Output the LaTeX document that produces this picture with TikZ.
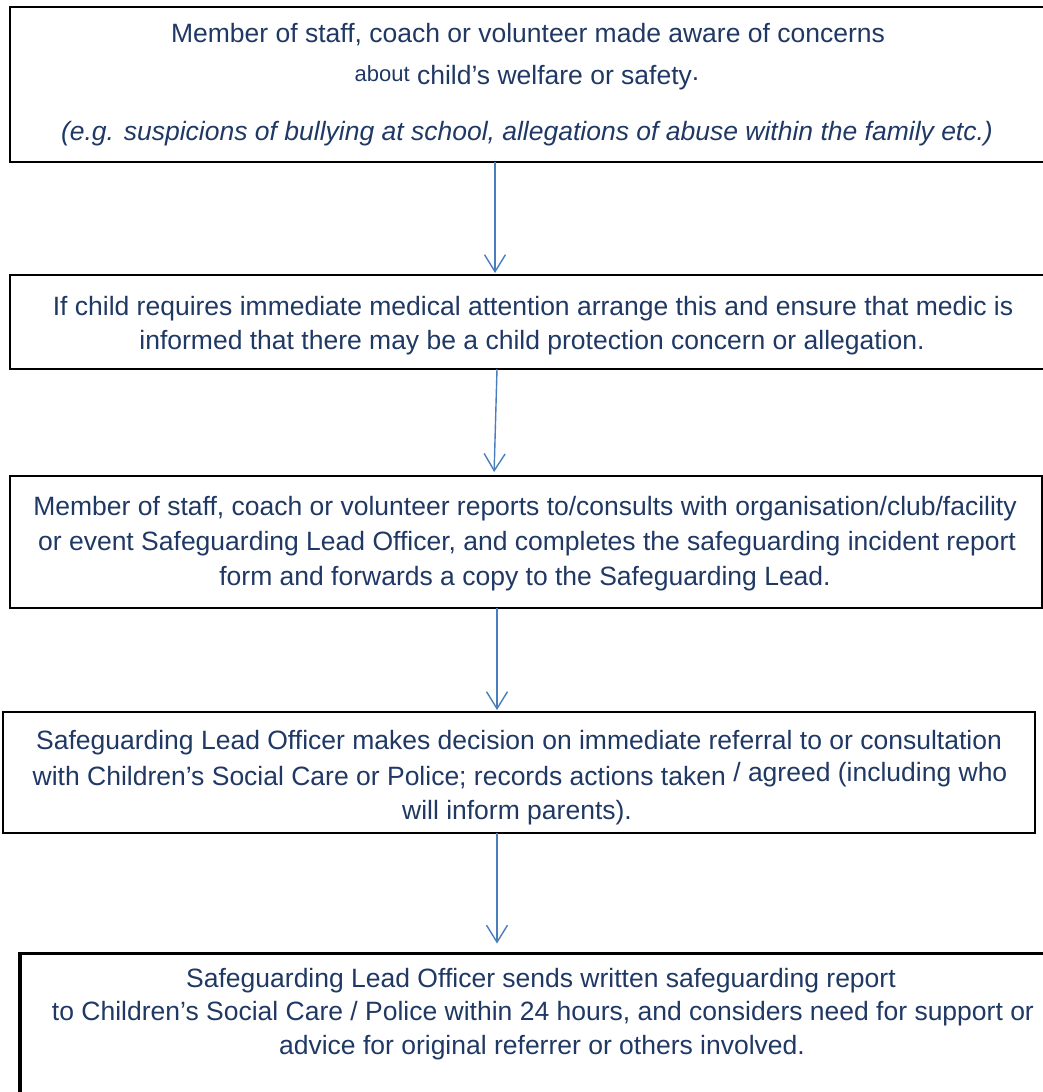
\documentclass[tikz,border=0pt]{standalone}
\usepackage{fontspec}
\setmainfont{Liberation Sans}
\usetikzlibrary{arrows.meta}
\definecolor{txtblue}{RGB}{31,56,100}
\definecolor{arrblue}{RGB}{74,126,187}
\begin{document}
\begin{tikzpicture}[x=1pt,y=-1pt,
  boxnode/.style={draw=black,line width=2pt,rectangle,inner sep=0pt,outer sep=0pt},
  txt/.style={anchor=base,inner sep=0pt,outer sep=0pt,text=txtblue,font=\fontsize{26.5}{32}\selectfont},
  arr/.style={draw=arrblue,line width=1.4pt,-{Straight Barb[length=17pt,width=21pt]}}]
\useasboundingbox (0,0) rectangle (1043,1092);
% boxes
\node[boxnode,minimum width=1040pt,minimum height=155pt] (b1) at (530,84.5) {};
\node[boxnode,minimum width=1040pt,minimum height=94pt] (b2) at (530,322) {};
\node[boxnode,minimum width=1032pt,minimum height=132pt] (b3) at (526,542) {};
\node[boxnode,minimum width=1032pt,minimum height=121pt] (b4) at (519,772.5) {};
\node[boxnode,line width=3.5pt,minimum width=1045pt,minimum height=157pt] (b5) at (542.5,1032) {};
% texts
\node[txt] (t1a) at (528,42) {Member of staff, coach or volunteer made aware of concerns};
\node[txt] (t1b) at (527,84) {{\fontsize{22}{26}\selectfont\raisebox{3pt}{about}} child’s welfare or safety\raisebox{4pt}{.}};
\node[txt] (t1c) at (527,140) {\itshape (e.g. suspicions of bullying at school, allegations of abuse within the family etc.)};
\node[txt] (t2a) at (533,315) {If child requires immediate medical attention arrange this and ensure that medic is};
\node[txt] (t2b) at (532,349) {informed that there may be a child protection concern or allegation.};
\node[txt] (t3a) at (525,515) {Member of staff, coach or volunteer reports to/consults with organisation/club/facility};
\node[txt] (t3b) at (527,550) {or event Safeguarding Lead Officer, and completes the safeguarding incident report};
\node[txt] (t3c) at (525,585) {form and forwards a copy to the Safeguarding Lead.};
\node[txt] (t4a) at (519,749) {Safeguarding Lead Officer makes decision on immediate referral to or consultation};
\node[txt] (t4b) at (520,785) {with Children’s Social Care or Police; records actions taken \raisebox{4pt}{/ agreed (including who}};
\node[txt] (t4c) at (517,819) {will inform parents).};
\node[txt] (t5a) at (541,987) {Safeguarding Lead Officer sends written safeguarding report};
\node[txt] (t5b) at (543,1020) {to Children’s Social Care / Police within 24 hours, and considers need for support or};
\node[txt] (t5c) at (542,1054) {advice for original referrer or others involved.};
% connectors
\draw[arr,shorten >=2pt] (b1.south -| 495,0) -- (b2.north -| 495,0);
\draw[arr,shorten >=4pt] (b2.south -| 497,0) -- (b3.north -| 494,0);
\draw[arr,shorten >=2pt] (b3.south -| 497,0) -- (b4.north -| 497,0);
\draw[arr,shorten >=10pt] (b4.south -| 497,0) -- (b5.north -| 497,0);
\end{tikzpicture}
\end{document}
